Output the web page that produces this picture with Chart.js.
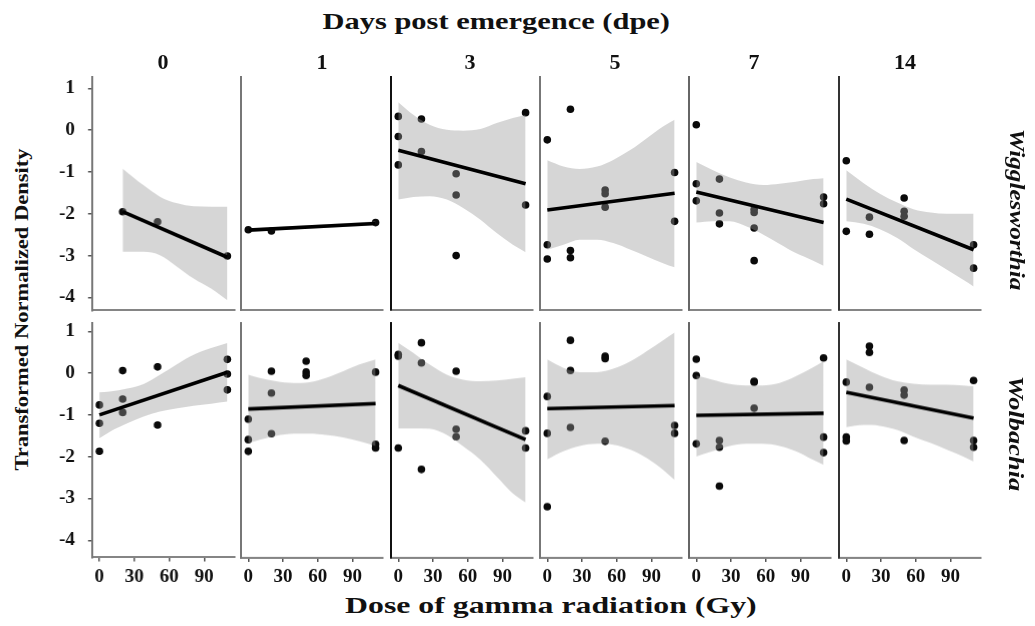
<!DOCTYPE html>
<html>
<head>
<meta charset="utf-8">
<title>Symbiont density by gamma dose and days post emergence</title>
<script src="https://cdn.jsdelivr.net/npm/chart.js@4/dist/chart.umd.min.js"></script>
<style>
  html, body { margin: 0; padding: 0; background: #fff; }
  body { width: 1035px; height: 626px; position: relative; overflow: hidden; }
  .wrap { position: absolute; }
  .wrap canvas { display: block; }
  .lbl {
    position: absolute;
    font-family: 'Liberation Serif', 'Times New Roman', serif;
    font-weight: bold;
    color: #111;
    white-space: nowrap;
    line-height: 1;
    transform-origin: center center;
  }
</style>
</head>
<body>
<script>
// ---- facet labels and ticks ----
const dpeDays = ['0', '1', '3', '5', '7', '14'];
const symbionts = ['Wigglesworthia', 'Wolbachia'];
const doseTicks = [0, 30, 60, 90];
const densityTicks = [-4, -3, -2, -1, 0, 1];

// ---- Wigglesworthia: observations [dose, density] ----
const wigDpe0Points = [[20, -1.95], [50, -2.19], [110, -3.01]];
const wigDpe1Points = [[0, -2.39], [20, -2.42], [110, -2.22]];
const wigDpe3Points = [[0, 0.32], [0, -0.16], [0, -0.84], [20, 0.26], [20, -0.52], [50, -1.05], [50, -1.56], [50, -3.01], [110, 0.41], [110, -1.80]];
const wigDpe5Points = [[0, -0.24], [0, -2.75], [0, -3.09], [20, 0.49], [20, -2.89], [20, -3.06], [50, -1.44], [50, -1.53], [50, -1.85], [110, -1.02], [110, -2.19]];
const wigDpe7Points = [[0, 0.12], [0, -1.29], [0, -1.70], [20, -1.18], [20, -1.99], [20, -2.25], [50, -1.90], [50, -1.98], [50, -2.35], [50, -3.13], [110, -1.61], [110, -1.77]];
const wigDpe14Points = [[0, -0.74], [0, -2.43], [20, -2.09], [20, -2.50], [50, -1.63], [50, -1.95], [50, -2.07], [110, -2.75], [110, -3.31]];

// ---- Wigglesworthia: fitted line ends [dose, density] ----
const wigDpe0Fit = [[20, -1.95], [110, -3.04]];
const wigDpe1Fit = [[0, -2.40], [110, -2.24]];
const wigDpe3Fit = [[0, -0.49], [110, -1.29]];
const wigDpe5Fit = [[0, -1.92], [110, -1.52]];
const wigDpe7Fit = [[0, -1.49], [110, -2.22]];
const wigDpe14Fit = [[0, -1.66], [110, -2.87]];

// ---- Wigglesworthia: confidence band [dose, lower, upper] ----
const wigDpe0Band = [[20, -2.91, -0.92], [38, -2.91, -1.32], [52, -2.99, -1.59], [67, -3.27, -1.75], [81, -3.55, -1.82], [96, -3.79, -1.83], [110, -4.07, -1.83]];
const wigDpe1Band = [[0, -2.44, -2.36], [55, -2.36, -2.28], [110, -2.29, -2.19]];
const wigDpe3Band = [[0, -1.67, 0.66], [13, -1.61, 0.36], [27, -1.59, 0.12], [42, -1.67, 0.00], [56, -1.87, -0.02], [71, -2.15, 0.02], [85, -2.47, 0.16], [99, -2.75, 0.28], [110, -2.93, 0.36]];
const wigDpe5Band = [[0, -2.87, -0.73], [14, -2.75, -0.88], [28, -2.63, -0.94], [43, -2.63, -0.88], [57, -2.71, -0.72], [72, -2.87, -0.48], [86, -3.03, -0.20], [100, -3.19, 0.08], [110, -3.29, 0.24]];
const wigDpe7Band = [[0, -2.22, -0.77], [14, -2.19, -0.96], [29, -2.19, -1.14], [43, -2.31, -1.26], [58, -2.51, -1.32], [72, -2.73, -1.29], [86, -2.95, -1.24], [101, -3.13, -1.18], [110, -3.25, -1.16]];
const wigDpe14Band = [[0, -2.19, -0.97], [15, -2.25, -1.28], [29, -2.38, -1.53], [44, -2.59, -1.74], [58, -2.85, -1.90], [73, -3.11, -1.98], [87, -3.35, -2.01], [101, -3.59, -2.01], [110, -3.75, -2.01]];

// ---- Wolbachia: observations [dose, density] ----
const wolDpe0Points = [[0, -0.76], [0, -1.20], [0, -1.87], [20, 0.06], [20, -0.62], [20, -0.94], [50, 0.15], [50, -1.24], [110, 0.33], [110, -0.02], [110, -0.40]];
const wolDpe1Points = [[0, -1.10], [0, -1.59], [0, -1.87], [20, 0.04], [20, -0.48], [20, -1.45], [50, 0.28], [50, 0.02], [50, -0.06], [110, 0.02], [110, -1.70], [110, -1.79]];
const wolDpe3Points = [[0, 0.44], [0, 0.40], [0, -1.79], [20, 0.72], [20, 0.24], [20, -2.30], [50, 0.04], [50, -1.34], [50, -1.52], [110, -1.38], [110, -1.79]];
const wolDpe5Points = [[0, -0.56], [0, -1.44], [0, -3.19], [20, 0.78], [20, 0.06], [20, -1.30], [50, 0.40], [50, 0.34], [50, -1.63], [110, -1.25], [110, -1.44]];
const wolDpe7Points = [[0, 0.33], [0, -0.06], [0, -1.69], [20, -1.61], [20, -1.77], [20, -2.70], [50, -0.20], [50, -0.22], [50, -0.84], [110, 0.36], [110, -1.53], [110, -1.90]];
const wolDpe14Points = [[0, -0.22], [0, -1.53], [0, -1.62], [20, 0.64], [20, 0.49], [20, -0.34], [50, -0.41], [50, -0.53], [50, -1.61], [110, -0.18], [110, -1.61], [110, -1.77]];

// ---- Wolbachia: fitted line ends [dose, density] ----
const wolDpe0Fit = [[0, -1.00], [110, 0.02]];
const wolDpe1Fit = [[0, -0.86], [110, -0.73]];
const wolDpe3Fit = [[0, -0.30], [110, -1.59]];
const wolDpe5Fit = [[0, -0.85], [110, -0.78]];
const wolDpe7Fit = [[0, -1.01], [110, -0.96]];
const wolDpe14Fit = [[0, -0.46], [110, -1.08]];

// ---- Wolbachia: confidence band [dose, lower, upper] ----
const wolDpe0Band = [[0, -1.56, -0.46], [9, -1.40, -0.44], [24, -1.20, -0.37], [38, -1.04, -0.26], [52, -0.92, -0.04], [67, -0.84, 0.22], [81, -0.78, 0.44], [96, -0.73, 0.60], [110, -0.68, 0.72]];
const wolDpe1Band = [[0, -1.67, -0.04], [10, -1.59, -0.12], [24, -1.50, -0.20], [39, -1.45, -0.24], [53, -1.45, -0.22], [67, -1.48, -0.12], [82, -1.54, 0.04], [96, -1.63, 0.20], [110, -1.74, 0.32]];
const wolDpe3Band = [[0, -1.32, 0.72], [13, -1.32, 0.48], [27, -1.33, 0.20], [42, -1.48, -0.04], [56, -1.75, -0.16], [71, -2.07, -0.20], [85, -2.47, -0.18], [99, -2.87, -0.14], [110, -3.09, -0.10]];
const wolDpe5Band = [[0, -2.06, 0.32], [14, -1.87, 0.12], [28, -1.74, 0.02], [43, -1.69, 0.02], [57, -1.71, 0.10], [72, -1.83, 0.28], [86, -2.03, 0.52], [100, -2.31, 0.78], [110, -2.55, 0.96]];
const wolDpe7Band = [[0, -1.99, -0.06], [14, -1.87, -0.16], [28, -1.75, -0.26], [43, -1.69, -0.30], [57, -1.69, -0.30], [72, -1.74, -0.24], [86, -1.87, -0.08], [100, -2.06, 0.12], [110, -2.19, 0.28]];
const wolDpe14Band = [[0, -1.29, 0.32], [15, -1.24, 0.12], [29, -1.26, -0.06], [44, -1.36, -0.20], [58, -1.52, -0.26], [73, -1.67, -0.28], [87, -1.83, -0.28], [101, -1.99, -0.30], [110, -2.11, -0.32]];

// ---- facet grid assembly ----
const wigPanels = [
  [wigDpe0Points, wigDpe0Fit, wigDpe0Band], [wigDpe1Points, wigDpe1Fit, wigDpe1Band],
  [wigDpe3Points, wigDpe3Fit, wigDpe3Band], [wigDpe5Points, wigDpe5Fit, wigDpe5Band],
  [wigDpe7Points, wigDpe7Fit, wigDpe7Band], [wigDpe14Points, wigDpe14Fit, wigDpe14Band]
];
const wolPanels = [
  [wolDpe0Points, wolDpe0Fit, wolDpe0Band], [wolDpe1Points, wolDpe1Fit, wolDpe1Band],
  [wolDpe3Points, wolDpe3Fit, wolDpe3Band], [wolDpe5Points, wolDpe5Fit, wolDpe5Band],
  [wolDpe7Points, wolDpe7Fit, wolDpe7Band], [wolDpe14Points, wolDpe14Fit, wolDpe14Band]
];

// Plot-area geometry of the grid (pixels)
const panelLeft = [92, 241.3, 390.7, 540, 689.4, 838.7];
const panelWidth = 142;
const rowTop = [77, 323];
const rowHeight = [233, 234];
const rowRange = [[-4.311, 1.263], [-4.41, 1.19]];
const doseRange = [-6.3, 116.4];
const leftAxisColor = ['#777', '#777', '#111', '#777', '#666', '#333'];

const SERIF = "'Liberation Serif', 'Times New Roman', serif";
Chart.defaults.font.family = SERIF;

function xy(pairs) { return pairs.map(p => ({ x: p[0], y: p[1] })); }

function makePanel(row, col, panel) {
  const [pts, fit, band] = panel;
  const wrap = document.createElement('div');
  wrap.className = 'wrap';
  wrap.style.width = (panelWidth + 80) + 'px';
  wrap.style.height = (rowHeight[row] + 40) + 'px';
  wrap.style.left = '0px';
  wrap.style.top = '0px';
  const cv = document.createElement('canvas');
  wrap.appendChild(cv);
  document.body.appendChild(wrap);

  const bottomRow = row === 1;
  const firstCol = col === 0;

  const chart = new Chart(cv, {
    type: 'scatter',
    data: {
      datasets: [
        { type: 'line', data: band.map(b => ({ x: b[0], y: b[2] })), borderWidth: 0, pointRadius: 0,
          fill: '+1', backgroundColor: 'rgba(153,153,153,0.4)', cubicInterpolationMode: 'monotone', order: 2 },
        { type: 'line', data: band.map(b => ({ x: b[0], y: b[1] })), borderWidth: 0, pointRadius: 0,
          fill: false, cubicInterpolationMode: 'monotone', order: 2 },
        { type: 'line', data: xy(fit), borderColor: '#000', borderWidth: 3.6, pointRadius: 0,
          fill: false, order: 1 },
        { type: 'scatter', data: xy(pts), pointRadius: 3.8, backgroundColor: '#0a0a0a',
          borderWidth: 0, order: 3 }
      ]
    },
    options: {
      responsive: true,
      maintainAspectRatio: false,
      animation: false,
      events: [],
      layout: { padding: 0 },
      plugins: { legend: { display: false }, tooltip: { enabled: false } },
      scales: {
        x: {
          type: 'linear',
          min: doseRange[0], max: doseRange[1],
          afterBuildTicks: s => { s.ticks = doseTicks.map(v => ({ value: v })); },
          grid: { display: bottomRow, drawOnChartArea: false, drawTicks: true, tickLength: 4, color: '#555', lineWidth: 1.5 },
          border: { display: true, color: '#858585', width: 2 },
          ticks: { display: bottomRow, autoSkip: false, maxRotation: 0, padding: 4, color: '#111',
                   font: { family: SERIF, weight: 'bold', size: 19 } }
        },
        y: {
          type: 'linear',
          min: rowRange[row][0], max: rowRange[row][1],
          afterBuildTicks: s => { s.ticks = densityTicks.map(v => ({ value: v })); },
          grid: { display: firstCol, drawOnChartArea: false, drawTicks: true, tickLength: 4, color: '#555', lineWidth: 1.5 },
          border: { display: true, color: leftAxisColor[col], width: 2 },
          ticks: { display: firstCol, padding: 13, color: '#111',
                   font: { family: SERIF, weight: 'bold', size: 19 } }
        }
      }
    }
  });

  // size and place the canvas so that its plot area lands on the grid cell
  const a = chart.chartArea;
  const w = wrap.offsetWidth + (panelWidth - (a.right - a.left));
  const h = wrap.offsetHeight + (rowHeight[row] - (a.bottom - a.top));
  wrap.style.width = w + 'px';
  wrap.style.height = h + 'px';
  chart.resize();
  const b = chart.chartArea;
  wrap.style.left = (panelLeft[col] - b.left) + 'px';
  wrap.style.top = (rowTop[row] - b.top) + 'px';
}

wigPanels.forEach((p, c) => makePanel(0, c, p));
wolPanels.forEach((p, c) => makePanel(1, c, p));

// ---- titles and strip labels ----
function label(text, cx, cy, size, length, rot, italic) {
  const el = document.createElement('div');
  el.className = 'lbl';
  el.textContent = text;
  el.style.fontSize = size + 'px';
  if (italic) el.style.fontStyle = 'italic';
  document.body.appendChild(el);
  const natural = el.offsetWidth;
  const sx = length ? length / natural : 1;
  el.style.left = (cx - el.offsetWidth / 2) + 'px';
  el.style.top = (cy - el.offsetHeight / 2) + 'px';
  el.style.transform = 'rotate(' + rot + 'deg) scaleX(' + sx + ')';
}

label('Days post emergence (dpe)', 496, 21, 23, 348, 0, false);
const headerX = [163, 322, 470, 615, 754, 905];
dpeDays.forEach((d, i) => label(d, headerX[i], 62, 22, 0, 0, false));
label('Transformed Normalized Density', 22, 309, 19, 322, -90, false);
label(symbionts[0], 1016, 209, 21, 162, 90, true);
label(symbionts[1], 1016, 433, 21, 116, 90, true);
label('Dose of gamma radiation  (Gy)', 551, 605, 23, 412, 0, false);
</script>
</body>
</html>
